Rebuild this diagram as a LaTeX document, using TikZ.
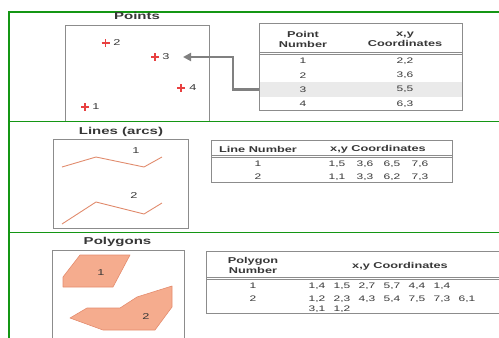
\documentclass[tikz,border=0pt]{standalone}
\usepackage{fontspec}
\setmainfont{Liberation Sans}
\usetikzlibrary{arrows.meta}
\definecolor{txt}{RGB}{55,55,55}
\definecolor{frame}{RGB}{20,150,20}
\definecolor{boxc}{RGB}{140,140,140}
\definecolor{salmon}{RGB}{245,172,142}
\definecolor{salmonedge}{RGB}{228,140,110}
\definecolor{arc}{RGB}{225,140,110}
\definecolor{rowgray}{RGB}{234,234,234}
\definecolor{crossred}{RGB}{232,64,64}
\newcommand\hs[1]{\scalebox{1.5}[1]{#1}}
\tikzset{
  ttl/.style={font=\bfseries\fontsize{10}{12}\selectfont, text=txt, inner sep=0},
  hd/.style={font=\bfseries\fontsize{8.5}{10}\selectfont, text=txt, inner sep=0, align=center},
  val/.style={font=\fontsize{8}{9}\selectfont, text=txt, inner sep=0},
  lbl/.style={font=\fontsize{8.5}{10}\selectfont, text=txt, inner sep=0},
  greenline/.style={draw=frame, line width=1.6pt},
  panel/.style={draw=boxc, line width=0.8pt},
  tab/.style={draw=boxc, line width=0.8pt},
  cross/.style={draw=crossred, line width=1.5pt},
  arcline/.style={draw=arc, line width=0.9pt},
  poly/.style={fill=salmon, draw=salmonedge, line width=0.6pt, line join=round},
  conn/.style={draw=gray, line width=2.6pt, -{Triangle[length=8pt,width=8pt]}}
}
\begin{document}
\begin{tikzpicture}[x=1pt,y=-1pt]
\useasboundingbox (0,0) rectangle (499,338);
% green frame
\draw[greenline] (499,12) -- (9,12) -- (9,338);
\draw[greenline] (9,121.5) -- (499,121.5);
\draw[greenline] (9,232.5) -- (499,232.5);

% ---------------- Points ----------------
\node[ttl] (tpts) at (137,16) {\hs{Points}};
\draw[panel] (65,120.5) -- (65,25) -- (209,25) -- (209,120.5);
\foreach \n/\x/\y/\lx in {1/85/107/96, 2/105.5/43/117, 3/155/57/166, 4/181/88/193}{
  \draw[cross] (\x-4,\y) -- (\x+4,\y) (\x,\y-3.8) -- (\x,\y+3.8);
  \node[lbl] (p\n) at (\lx,\y) {\hs{\n}};
}
% table 1
\fill[rowgray] (259,82) rectangle (462,97);
\draw[tab] (259,23) rectangle (462,110);
\draw[tab] (259,52) -- (462,52) (259,54.5) -- (462,54.5);
\node[hd] (h1a) at (303,39) {\hs{Point}\\\hs{Number}};
\node[hd] (h1b) at (405,39) {\hs{x,y}\\\hs{Coordinates}};
\foreach \n/\v/\y in {1/{2,2}/61, 2/{3,6}/75.5, 3/{5,5}/89.5, 4/{6,3}/104}{
  \node[val] (r\n a) at (303,\y) {\hs{\n}};
  \node[val] (r\n b) at (405,\y) {\hs{\v}};
}
\coordinate (a0) at (259,89.5);
\coordinate (tip) at (183,57);
\draw[conn] (a0) -- ++(-26,0) |- (tip);

% ---------------- Lines ----------------
\node[ttl] (tlin) at (121,132) {\hs{Lines (arcs)}};
\draw[panel] (53,139) rectangle (188,228);
\draw[arcline] (62,167) -- (96,157) -- (144,167) -- (162,157);
\draw[arcline] (62,224) -- (96,202) -- (144,214) -- (162,203);
\node[lbl] (l1) at (136,151) {\hs{1}};
\node[lbl] (l2) at (134,196) {\hs{2}};
% table 2
\draw[tab] (211,140) rectangle (452,182);
\draw[tab] (211,155) -- (452,155) (211,157.5) -- (452,157.5);
\node[hd] (h2a) at (258,149) {\hs{Line Number}};
\node[hd] (h2b) at (378,149) {\hs{x,y Coordinates}};
\node[val] (s1) at (258,164) {\hs{1}};
\node[val] (s2) at (258,177) {\hs{2}};
\foreach \v/\x in {{1,5}/337, {3,6}/365, {6,5}/392, {7,6}/420}{
  \node[val] at (\x,164) {\hs{\v}};
}
\foreach \v/\x in {{1,1}/337, {3,3}/365, {6,2}/392, {7,3}/420}{
  \node[val] at (\x,177) {\hs{\v}};
}

% ---------------- Polygons ----------------
\node[ttl] (tpol) at (117.5,242) {\hs{Polygons}};
\draw[panel] (52,338) -- (52,250) -- (184,250) -- (184,338);
\draw[poly] (63,287) -- (63,277) -- (80,255) -- (130,255) -- (113,287) -- cycle;
\draw[poly] (70,318) -- (87,308) -- (120,308) -- (137,297) -- (172,286) -- (172,307) -- (155,330) -- (103,330) -- cycle;
\node[lbl] (g1) at (101,273) {\hs{1}};
\node[lbl] (g2) at (146,317) {\hs{2}};
% table 3
\draw[tab] (499,251) -- (206,251) -- (206,313) -- (499,313);
\draw[tab] (206,277) -- (499,277) (206,279.5) -- (499,279.5);
\node[hd] (h3a) at (253,265.5) {\hs{Polygon}\\\hs{Number}};
\node[hd] (h3b) at (400,266) {\hs{x,y Coordinates}};
\node[val] (q1) at (253,286) {\hs{1}};
\node[val] (q2) at (253,299) {\hs{2}};
\foreach \v/\x in {{1,4}/317, {1,5}/342, {2,7}/367, {5,7}/392, {4,4}/417, {1,4}/442}{
  \node[val] at (\x,286) {\hs{\v}};
}
\foreach \v/\x in {{1,2}/317, {2,3}/342, {4,3}/367, {5,4}/392, {7,5}/417, {7,3}/442, {6,1}/467}{
  \node[val] at (\x,299) {\hs{\v}};
}
\foreach \v/\x in {{3,1}/317, {1,2}/342}{
  \node[val] at (\x,309) {\hs{\v}};
}
\end{tikzpicture}
\end{document}
